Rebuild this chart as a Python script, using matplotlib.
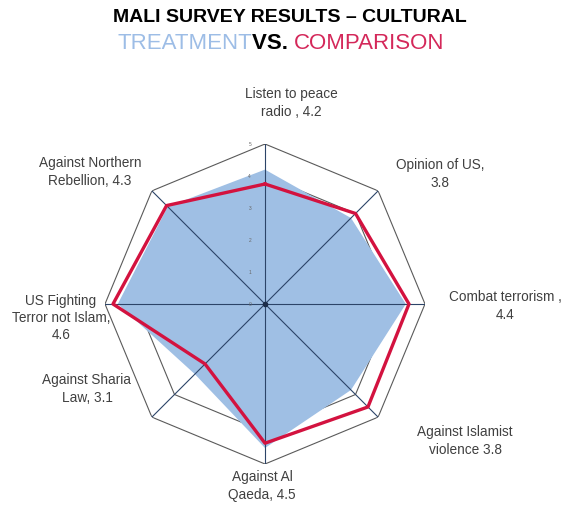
import numpy as np
import matplotlib
matplotlib.use("Agg")
import matplotlib.pyplot as plt
from matplotlib import font_manager

plt.rcParams['font.family'] = ['Liberation Sans', 'DejaVu Sans']

# survey categories, clockwise from the top
categories = ['Listen to peace\nradio ,', 'Opinion of US,\n', 'Combat terrorism ,\n',
              'Against Islamist\nviolence', 'Against Al\nQaeda,', 'Against Sharia\nLaw,',
              'US Fighting\nTerror not Islam,\n', 'Against Northern\nRebellion,']
treatment = [4.2, 3.8, 4.4, 3.8, 4.5, 3.1, 4.6, 4.3]
comparison = [3.75, 4.0, 4.5, 4.55, 4.35, 2.65, 4.75, 4.35]
rticks = [0, 1, 2, 3, 4, 5]

W, H = 564, 506
fig = plt.figure(figsize=(W / 100, H / 100), dpi=100)

cx, cy, R = 265, 305, 160
ax = fig.add_axes([(cx - R) / W, (H - cy - R) / H, 2 * R / W, 2 * R / H], projection='polar')
ax.set_theta_zero_location('N')
ax.set_theta_direction(-1)
ax.set_ylim(0, 5)
ax.grid(False)
ax.spines['polar'].set_visible(False)
ax.set_xticks([])
ax.set_yticks([])
ax.patch.set_alpha(0)

n = len(categories)
theta = np.arange(n) * 2 * np.pi / n
tclosed = np.append(theta, theta[0])

# octagonal rings
for r in rticks[1:]:
    ax.plot(tclosed, [r] * (n + 1), color='#5a5a5a', lw=0.8, zorder=1)

ax.fill(tclosed, treatment + treatment[:1], color='#9fbfe4', zorder=2, lw=0)

# spokes
for t in theta:
    ax.plot([t, t], [0, 5], color='#2c4468', lw=0.8, zorder=3)
ax.plot([0], [0], 'o', color='#1c2c48', ms=3, zorder=4)

ax.plot(tclosed, comparison + comparison[:1], color='#d3123f', lw=2.4, zorder=5)

for r in rticks:
    ax.annotate(str(r), xy=(0, r), xytext=(-11, 0), textcoords='offset points',
                ha='center', va='center', fontsize=3.5, color='#666666', zorder=6)

# category labels: (x, y) pixel centre of the text block
label_pos = [(291, 103), (440, 174), (505, 306), (465, 441),
             (262, 486), (87, 389), (61, 318), (90, 172)]
for cat, val, (x, y) in zip(categories, treatment, label_pos):
    sep = '' if cat.endswith('\n') else ' '
    fig.text(x / W, 1 - y / H, f'{cat}{sep}{val}', ha='center', va='center',
             fontsize=9.8, color='#404040', linespacing=1.3)

narrow = [f.name for f in font_manager.fontManager.ttflist if f.name == 'Liberation Sans Narrow']
title_family = ['Liberation Sans Narrow', 'Liberation Sans'] if narrow else ['Liberation Sans']
fig.text(290 / W, 1 - 17 / H, 'MALI SURVEY RESULTS \u2013 CULTURAL', ha='center', va='center',
         fontsize=17 if narrow else 14, fontweight='bold', color='black', family=title_family)
t1 = fig.text(117 / W, 1 - 44 / H, 'TREATMENT', ha='left', va='center', fontsize=16, color='#9dbde6')
fig.canvas.draw()
bb = t1.get_window_extent()
t2 = fig.text(bb.x1 / W, 1 - 44 / H, 'VS. ', ha='left', va='center', fontsize=16,
              fontweight='bold', color='black')
bb = t2.get_window_extent()
fig.text(bb.x1 / W, 1 - 44 / H, 'COMPARISON', ha='left', va='center', fontsize=16, color='#d4285a')

fig.savefig('out.png', dpi=100)
